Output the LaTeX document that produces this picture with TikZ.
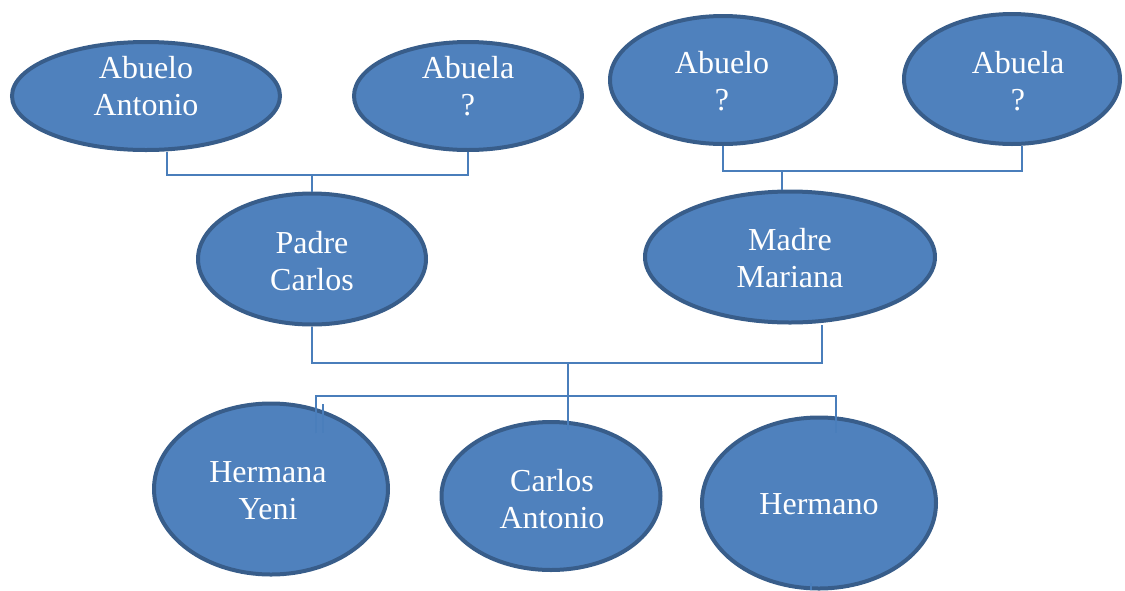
\documentclass[tikz,border=0pt]{standalone}
\usepackage{fontspec}
\setmainfont{Liberation Serif}
\usetikzlibrary{shapes.geometric}
\definecolor{fillblue}{HTML}{4F81BD}
\definecolor{edgeblue}{HTML}{385D8A}
\definecolor{linkblue}{HTML}{4A7EBB}
\begin{document}
\begin{tikzpicture}[x=1pt,y=-1pt,
  person/.style={ellipse, fill=fillblue, draw=edgeblue, line width=4pt, inner sep=0pt},
  lbl/.style={text=white, align=center, inner sep=0pt, font=\fontsize{32}{37}\selectfont},
  link/.style={draw=linkblue, line width=2pt}]
\useasboundingbox (0,0) rectangle (1125,590);
% grandparents
\node[person, minimum width=268pt, minimum height=108pt] (aa) at (146,96) {};
\node[person, minimum width=228pt, minimum height=108pt] (ab) at (468,96) {};
\node[person, minimum width=226pt, minimum height=128pt] (ra) at (723,80) {};
\node[person, minimum width=216pt, minimum height=130pt] (rb) at (1012,79) {};
% parents
\node[person, minimum width=228pt, minimum height=131pt] (pc) at (312,259) {};
\node[person, minimum width=290pt, minimum height=131pt] (mm) at (790,257) {};
% children
\node[person, minimum width=234pt, minimum height=171pt] (hy) at (271,489) {};
\node[person, minimum width=219pt, minimum height=148pt] (ca) at (551,496) {};
\node[person, minimum width=234pt, minimum height=171pt] (he) at (819,503) {};
% labels
\node[lbl] (taa) at (146,86.5) {Abuelo\\Antonio};
\node[lbl] (tab) at (468,86.5) {Abuela\\?};
\node[lbl] (tra) at (722,81) {Abuelo\\?};
\node[lbl] (trb) at (1018,81) {Abuela\\?};
\node[lbl] (tpc) at (312,261.5) {Padre\\Carlos};
\node[lbl] (tmm) at (790,258.5) {Madre\\Mariana};
\node[lbl] (thy) at (268,490.5) {Hermana\\Yeni};
\node[lbl] (tca) at (552,499.5) {Carlos\\Antonio};
\node[lbl] (the) at (819,504.5) {Hermano};
% junctions
\coordinate (jL) at (312,175);
\coordinate (jR) at (782,171);
\coordinate (jP) at (568,363);
\coordinate (jC) at (568,396);
\coordinate (cl) at (316,433);
\coordinate (cr) at (836,433);
\coordinate (cm) at (568,430);
\coordinate (s1) at (323,404);
\coordinate (s2) at (323,433);
\coordinate (b1) at (811,583);
\coordinate (b2) at (811,590);
% connectors
\draw[link] ([xshift=21pt]aa.south) |- (jL) -| (ab.south);
\draw[link] (jL) -- (pc.north);
\draw[link] (ra.south) |- (jR) -| ([xshift=10pt]rb.south);
\draw[link] (jR) -- (jR |- mm.north);
\draw[link] (pc.south) |- (jP) -| ([xshift=32pt]mm.south);
\draw[link] (jP) -- (cm);
\draw[link] (cl) |- (jC) -| (cr);
\draw[link] (s1) -- (s2);
\draw[link] (b1) -- (b2);
\end{tikzpicture}
\end{document}
